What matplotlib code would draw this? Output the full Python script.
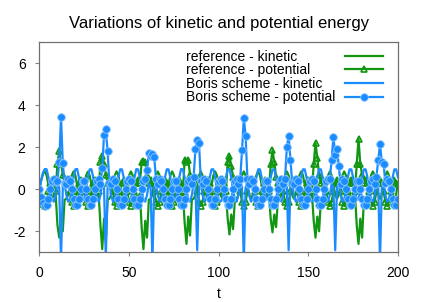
import matplotlib
matplotlib.use("Agg")
import matplotlib.pyplot as plt

plt.rcParams['font.family'] = ['Liberation Sans', 'DejaVu Sans']
plt.rcParams['font.size'] = 10

# time samples
t = list(range(201))

# reference - kinetic (green line)
ref_kin = [
    0.0, 0.45, 0.75, 0.85, 0.66, 0.2, -0.26, -0.45, -0.26, -0.2, -1.7,
    -2.3,
    -1.3, -2.0, -0.5, -0.45, -0.26, 0.2, 0.66, 0.85, 0.66, 0.2, -0.26, -0.45, -0.26, 0.2, 0.66, 0.84, 0.66, 0.2, -0.26, -0.45, -0.26, -0.2, -1.7,
    -2.85,
    -1.4, -2.5, -0.5, -0.45, -0.26, 0.2, 0.66, 0.85, 0.66, 0.2, -0.26, -0.45, -0.26, 0.2, 0.66, 0.85, 0.66, 0.2, -0.26, -0.45, -0.2, -1.8,
    -2.85,
    -1.5, -2.3, -0.5, -0.45, -0.26, 0.2, 0.66, 0.85, 0.66, 0.2, -0.26, -0.45, -0.26, 0.2, 0.66, 0.85, 0.66, 0.2, -0.26, -0.45, -0.26, -0.2, -1.6,
    -2.6,
    -1.3, -2.2, -0.5, -0.45, -0.26, 0.2, 0.66, 0.85, 0.66, 0.2, -0.26, -0.45, -0.26, 0.2, 0.66, 0.85, 0.66, 0.2, -0.26, -0.45, -0.26, -0.2, -1.4,
    -2.15,
    -1.2, -1.9, -0.5, -0.45, -0.26, 0.2, 0.66, 0.85, 0.66, 0.2, -0.26, -0.45, -0.26, 0.2, 0.66, 0.85, 0.66, 0.2, -0.26, -0.45, -0.26, -0.2, -1.4,
    -2.05,
    -1.2, -1.8, -0.5, -0.45, -0.26, 0.2, 0.66, 0.85, 0.66, 0.2, -0.26, -0.45, -0.26, 0.2, 0.66, 0.85, 0.66, 0.2, -0.26, -0.45, -0.26, -0.2, -1.5,
    -2.3,
    -1.3, -2.0, -0.5, -0.45, -0.26, 0.2, 0.66, 0.85, 0.66, 0.2, -0.26, -0.45, -0.26, 0.2, 0.66, 0.85, 0.66, 0.2, -0.26, -0.45, -0.26, -0.2, -1.7,
    -2.6,
    -1.4, -2.3, -0.5, -0.45, -0.26, 0.2, 0.66, 0.85, 0.66, 0.2, -0.26, -0.45, -0.26, 0.2, 0.66, 0.85, 0.66, 0.2, -0.26, -0.45, -0.26, 0.35,
]

# reference - potential (green, triangles)
ref_pot = [
    0.0, -0.4, -0.7, -0.8, -0.6, -0.1, 0.3, 0.45, 0.3, -0.1, 1.2,
    1.8,
    1.25, 0.7, 0.3, 0.45, 0.3, -0.1, -0.6, -0.8, -0.6, -0.1, 0.3, 0.45, 0.3, -0.1, -0.6, -0.8, -0.6, -0.1, 0.3, 0.45, 0.3, -0.1, 1.3,
    1.6,
    1.2, 0.7, 0.3, 0.45, 0.3, -0.1, -0.6, -0.8, -0.6, -0.1, 0.3, 0.45, 0.3, -0.1, -0.6, -0.8, -0.6, -0.1, 0.3, 0.45, 0.3, 1.3,
    1.35,
    1.3, 0.7, 0.3, 0.45, 0.3, -0.1, -0.6, -0.8, -0.6, -0.1, 0.3, 0.45, 0.3, -0.1, -0.6, -0.8, -0.6, -0.1, 0.3, 0.45, 0.3, -0.1, 1.4,
    1.3,
    1.4, 0.7, 0.3, 0.45, 0.3, -0.1, -0.6, -0.8, -0.6, -0.1, 0.3, 0.45, 0.3, -0.1, -0.6, -0.8, -0.6, -0.1, 0.3, 0.45, 0.3, -0.1, 1.3,
    1.6,
    1.1, 0.6, 0.3, 0.45, 0.3, -0.1, -0.6, -0.8, -0.6, -0.1, 0.3, 0.45, 0.3, -0.1, -0.6, -0.8, -0.6, -0.1, 0.3, 0.45, 0.3, -0.1, 1.2,
    1.85,
    1.3, 0.6, 0.3, 0.45, 0.3, -0.1, -0.6, -0.8, -0.6, -0.1, 0.3, 0.45, 0.3, -0.1, -0.6, -0.8, -0.6, -0.1, 0.3, 0.45, 0.3, -0.1, 1.2,
    2.2,
    1.5, 0.7, 0.3, 0.45, 0.3, -0.1, -0.6, -0.8, -0.6, -0.1, 0.3, 0.45, 0.3, -0.1, -0.6, -0.8, -0.6, -0.1, 0.3, 0.45, 0.3, -0.1, 1.2,
    2.4,
    1.2, 0.7, 0.3, 0.45, 0.3, -0.1, -0.6, -0.8, -0.6, -0.1, 0.3, 0.45, 0.3, -0.1, -0.6, -0.8, -0.6, -0.1, 0.3, 0.45, 0.3, 0.25,
]

# Boris scheme - kinetic (blue line)
boris_kin = [
    0.0, 0.45, 0.8, 0.97, 0.95, 0.56, -0.02, -0.48, -0.59, -0.28, 0.27, 0.1,
    -3.4,
    0.1, 0.27, -0.28, -0.59, -0.48, -0.02, 0.56, 0.95, 0.97, 0.56, -0.02, -0.48, -0.5, -0.02, 0.56, 0.95, 0.95, 0.56, -0.02, -0.48, -0.59, -0.28, 0.27, 0.1,
    -3.3,
    0.1, 0.27, -0.28, -0.59, -0.48, -0.02, 0.56, 0.95, 0.95, 0.56, -0.02, -0.48, -0.6, -0.48, -0.02, 0.56, 0.96, 0.95, 0.56, -0.02, -0.48, -0.59, -0.28, 0.27, 0.1,
    -3.5,
    0.1, 0.27, -0.28, -0.59, -0.48, -0.02, 0.56, 0.95, 0.95, 0.56, -0.02, -0.48, -0.48, -0.02, 0.56, 0.97, 0.95, 0.56, -0.02, -0.48, -0.59, -0.28, 0.27, 0.1,
    -2.9,
    0.1, 0.27, -0.28, -0.59, -0.48, -0.02, 0.56, 0.95, 0.95, 0.56, -0.02, -0.48, -0.59, -0.48, -0.02, 0.56, 0.95, 0.95, 0.56, -0.02, -0.48, -0.59, -0.28, 0.27, 0.1,
    -3.5,
    0.1, 0.27, -0.28, -0.59, -0.48, -0.02, 0.56, 0.95, 0.95, 0.56, -0.02, -0.48, -0.48, -0.02, 0.56, 0.95, 0.95, 0.56, -0.02, -0.48, -0.59, -0.28, 0.27, 0.1,
    -2.9,
    0.1, 0.27, -0.28, -0.59, -0.48, -0.02, 0.56, 0.95, 0.95, 0.56, -0.02, -0.48, -0.59, -0.48, -0.02, 0.56, 0.95, 0.95, 0.56, -0.02, -0.48, -0.59, -0.28, 0.27, 0.1,
    -2.9,
    0.1, 0.27, -0.28, -0.59, -0.48, -0.02, 0.56, 0.95, 0.95, 0.56, -0.02, -0.48, -0.48, -0.02, 0.56, 0.95, 0.95, 0.56, -0.02, -0.48, -0.59, -0.28, 0.27, 0.1,
    -3.4,
    0.1, 0.27, -0.28, -0.59, -0.48, -0.02, 0.56, 0.95, 0.95, 0.56,
]

# Boris scheme - potential (blue, circles)
boris_pot = [
    0.0, -0.35, -0.64, -0.78, -0.76, -0.44, 0.03, 0.40, 0.49, 0.35, 0.38, 1.28,
    3.45,
    1.24, 0.3, 0.24, 0.49, 0.40, 0.03, -0.44, -0.76, -0.76, -0.44, 0.03, 0.40, 0.40, 0.03, -0.44, -0.76, -0.76, -0.44, 0.03, 0.40, 0.49, 0.24, 1.0, 2.6,
    2.85,
    1.8, 0.3, 0.24, 0.49, 0.40, 0.03, -0.44, -0.76, -0.76, -0.44, 0.03, 0.40, 0.49, 0.40, 0.03, -0.44, -0.76, -0.76, -0.44, 0.03, 0.40, 0.49, 0.9, 1.75, 1.6,
    1.7,
    1.55, 0.5, 0.24, 0.49, 0.40, 0.03, -0.44, -0.76, -0.76, -0.44, 0.03, 0.40, 0.40, 0.03, -0.44, -0.76, -0.76, -0.44, 0.03, 0.40, 0.49, 0.24, 0.6, 1.9,
    2.35,
    2.2, 0.4, 0.24, 0.49, 0.40, 0.03, -0.44, -0.76, -0.76, -0.44, 0.03, 0.40, 0.49, 0.40, 0.03, -0.44, -0.76, -0.76, -0.44, 0.03, 0.40, 0.49, 0.24, 0.5, 1.85,
    3.4,
    2.55, 0.5, 0.24, 0.49, 0.40, 0.03, -0.44, -0.76, -0.76, -0.44, 0.03, 0.40, 0.40, 0.03, -0.44, -0.76, -0.76, -0.44, 0.03, 0.40, 0.49, 0.24, 0.5, 2.0,
    2.55,
    1.4, 0.3, 0.24, 0.49, 0.40, 0.03, -0.44, -0.76, -0.76, -0.44, 0.03, 0.40, 0.49, 0.40, 0.03, -0.44, -0.76, -0.76, -0.44, 0.03, 0.40, 0.49, 0.5, 1.4, 2.5,
    1.65,
    1.9, 1.1, 0.24, 0.49, 0.40, 0.03, -0.44, -0.76, -0.76, -0.44, 0.03, 0.40, 0.40, 0.03, -0.44, -0.76, -0.76, -0.44, 0.03, 0.40, 0.49, 0.24, 0.6, 1.4,
    2.15,
    1.3, 1.2, 0.3, 0.49, 0.40, 0.03, -0.44, -0.76, -0.76, -0.44,
]

green = '#109610'
blue = '#1a8cff'

fig = plt.figure(figsize=(4.22, 3.02), dpi=100)
ax = fig.add_axes([0.0936, 0.1646, 0.8494, 0.6954])

ax.plot(t, ref_kin, color=green, lw=1.6, label='reference - kinetic')
ax.plot(t, ref_pot, color=green, lw=1.6, marker='^', ms=5, mfc='none',
        mec=green, mew=1.2, label='reference - potential')
ax.plot(t, boris_kin, color=blue, lw=1.6, label='Boris scheme - kinetic')
ax.plot(t, boris_pot, color=blue, lw=1.6, marker='o', ms=5.5, mfc=blue,
        mec='#8cc6ff', mew=0.6, label='Boris scheme - potential')

ax.set_xlim(0, 200)
ax.set_ylim(-3, 7)
ax.set_xticks([0, 50, 100, 150, 200])
ax.set_yticks([-2, 0, 2, 4, 6])
ax.set_yticklabels(['-2', '0', '2', '4', '6'])
ax.tick_params(direction='out', length=3, color='#808080', pad=7,
               top=False, right=False)
for s in ax.spines.values():
    s.set_color('#707070')
    s.set_linewidth(0.9)

ax.set_xlabel('t', labelpad=5)
ax.set_title('Variations of kinetic and potential energy', pad=10)

leg = ax.legend(loc='upper right', bbox_to_anchor=(0.958, 0.965), frameon=False,
                markerfirst=False, handlelength=2.7, handletextpad=0.7,
                labelspacing=-0.03, borderpad=0, borderaxespad=0)

# gnuplot-like key: labels left-aligned, samples lined up on the right
fig.canvas.draw()
r = fig.canvas.get_renderer()
widths = [txt.get_window_extent(r).width for txt in leg.get_texts()]
maxw = max(widths)
col = leg._legend_handle_box.get_children()[0]
col.align = 'left'
for row, w in zip(col.get_children(), widths):
    row.sep += (maxw - w) * 72 / fig.dpi

fig.savefig('out.png', dpi=100)
